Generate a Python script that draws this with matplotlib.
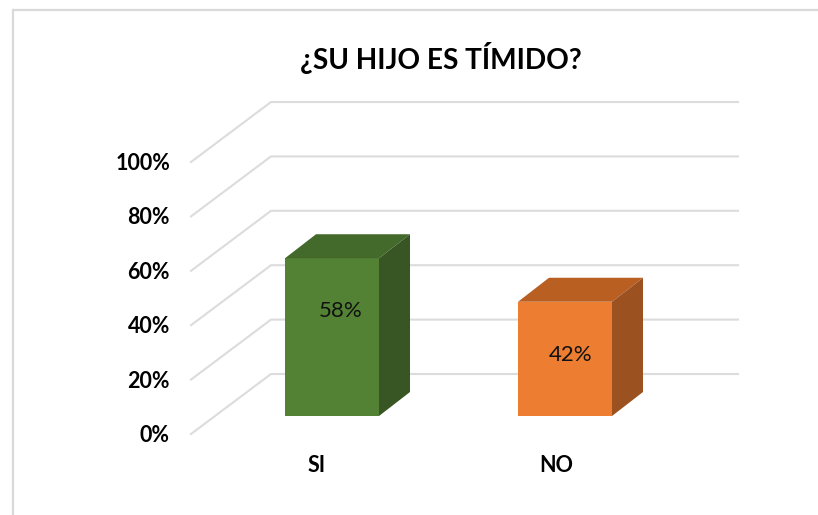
import matplotlib
matplotlib.use("Agg")
import matplotlib.pyplot as plt
from matplotlib.patches import Polygon

# ---- data ----
categories = ["SI", "NO"]
values = [58, 42]
value_labels = ["58%", "42%"]
ticks = [0, 20, 40, 60, 80, 100]
tick_labels = ["0%", "20%", "40%", "60%", "80%", "100%"]
title = "¿SU HIJO ES TÍMIDO?"
front_colors = ["#548235", "#ED7D31"]
top_colors = ["#436A2A", "#B95F22"]
side_colors = ["#375623", "#9C5120"]

W, H = 818, 515
plt.rcParams["font.family"] = ["Lato", "DejaVu Sans"]
fig = plt.figure(figsize=(W / 100, H / 100), dpi=100, facecolor="white")
ax = fig.add_axes([0, 0, 1, 1])

# scale of the bars' front plane: pixel-per-unit layout
PX_PER_CAT = 233.0
PX_PER_VAL = 2.72
X0_PX, Y0_PX = 332.0, 416.0
ax.set_xlim((0 - X0_PX) / PX_PER_CAT, (W - X0_PX) / PX_PER_CAT)
ax.set_ylim((Y0_PX - H) / PX_PER_VAL, Y0_PX / PX_PER_VAL)
ax.axis("off")

def dx(px):
    return px / PX_PER_CAT

def dy(px):
    return px / PX_PER_VAL

# outer chart frame
frame = "#D9D9D9"
fx0, fy1 = dx(12.5) + ax.get_xlim()[0], ax.get_ylim()[1] - dy(10.5)
xmax, ymin = ax.get_xlim()[1], ax.get_ylim()[0]
ax.plot([fx0, fx0], [ymin, fy1], color=frame, lw=1.6, zorder=1, solid_capstyle="projecting")
ax.plot([fx0, xmax], [fy1, fy1], color=frame, lw=1.6, zorder=1, solid_capstyle="butt")

# gridlines: wall at the back, floor diagonal to the front
grid_left = (191 - X0_PX) / PX_PER_CAT
grid_back = (271 - X0_PX) / PX_PER_CAT
grid_right = (738 - X0_PX) / PX_PER_CAT
front_drop = dy(18)
back_rise = dy(42)
for t, lab in zip(ticks, tick_labels):
    xs = [grid_left, grid_back, grid_right]
    ys = [t - front_drop, t + back_rise, t + back_rise]
    ax.plot(xs, ys, color="#DCDCDC", lw=1.5, zorder=2, solid_joinstyle="miter")
    ax.text(grid_left - dx(21), t - front_drop - dy(1.5), lab, ha="right", va="center",
            fontsize=15.5, fontweight="bold", color="black", zorder=5)

# 3D bars
half = dx(47)
ox, oy = dx(31), dy(24)
for i, (cat, v, lab) in enumerate(zip(categories, values, value_labels)):
    l, r = i - half, i + half
    ax.add_patch(Polygon([(l, 0), (r, 0), (r, v), (l, v)], closed=True,
                         fc=front_colors[i], ec="none", zorder=4))
    ax.add_patch(Polygon([(l, v), (r, v), (r + ox, v + oy), (l + ox, v + oy)], closed=True,
                         fc=top_colors[i], ec="none", zorder=4))
    ax.add_patch(Polygon([(r, 0), (r + ox, oy), (r + ox, v + oy), (r, v)], closed=True,
                         fc=side_colors[i], ec="none", zorder=4))
    ax.text(i + dx(8.5 if i == 0 else 6), v - dy(53), lab, ha="center", va="center",
            fontsize=16, color="#111111", zorder=6)
    ax.text(i - dx(15.5 if i == 0 else 8.5), -dy(50), cat, ha="center", va="center",
            fontsize=15.5, fontweight="bold", color="black", zorder=6)

ax.text(dx(108.5), ax.get_ylim()[1] - dy(58), title, ha="center", va="center",
        fontsize=20.2, fontweight="bold", color="black", zorder=6)

fig.savefig("out.png", dpi=100, facecolor="white")
